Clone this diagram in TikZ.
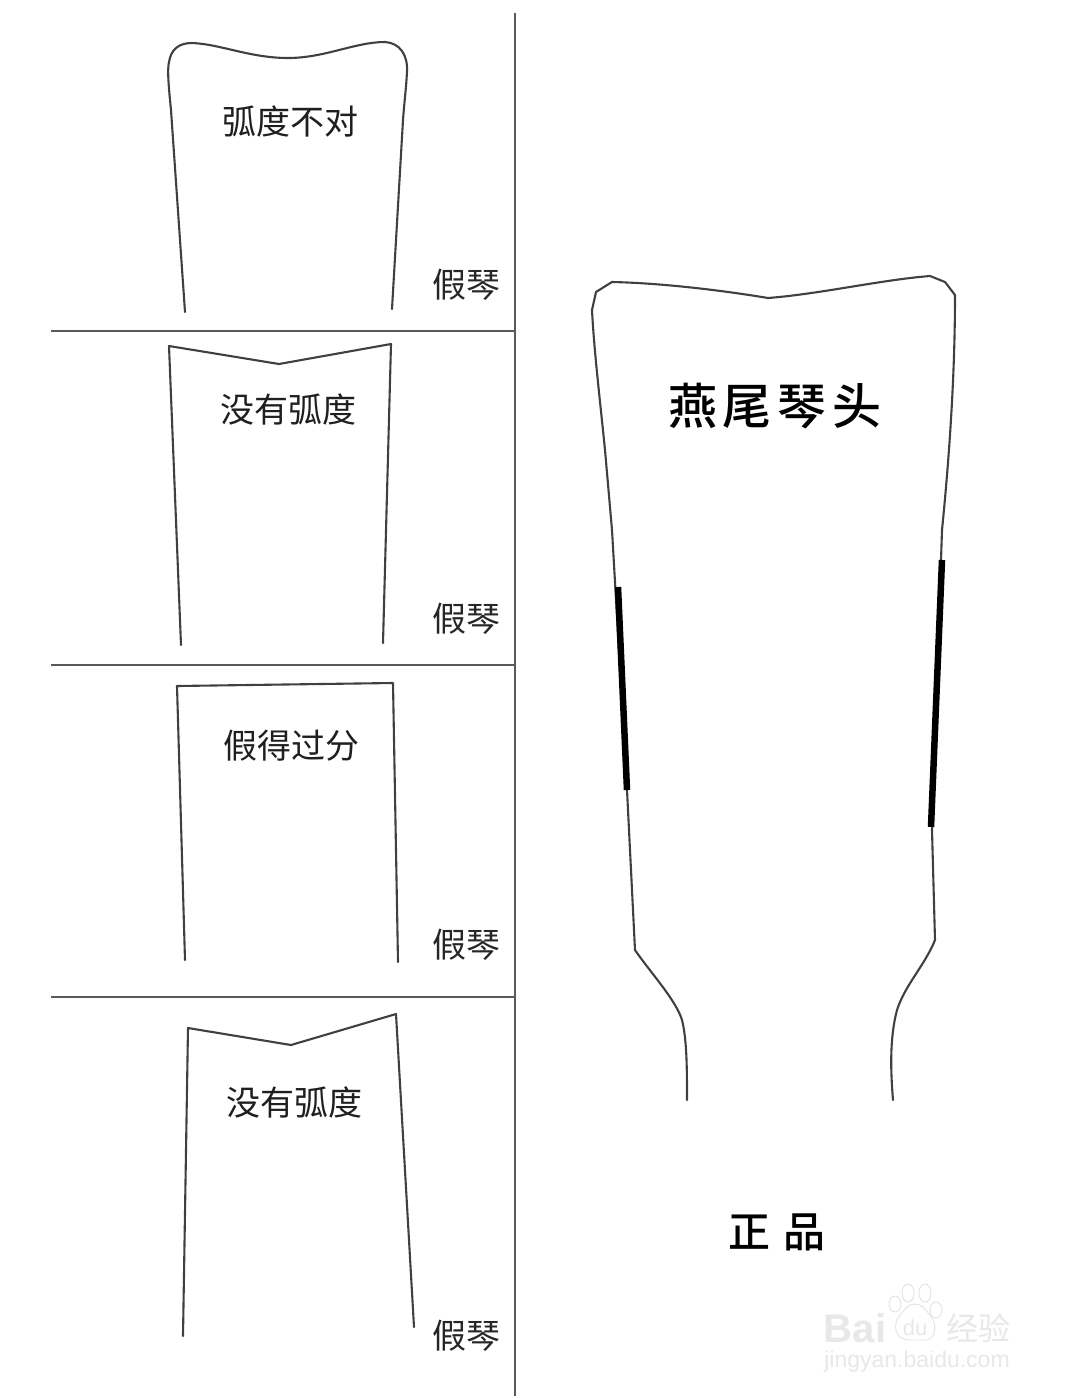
\documentclass[tikz,border=0pt]{standalone}
\usepackage{fontspec}
\setmainfont{Liberation Sans}
\newfontfamily\cjk{Noto Sans CJK SC}
\newfontfamily\cjkbold{Noto Sans CJK SC Medium}
\begin{document}
\begin{tikzpicture}[x=1pt,y=-1pt,
  outline/.style={draw=black!75,line width=2.1pt,line join=round,line cap=round},
  rule/.style={draw=black!65,line width=1.9pt},
  marker/.style={draw=black,line width=6.5pt},
  shapelabel/.style={font=\cjk\fontsize{34}{34}\selectfont,text=black!88,inner sep=0pt},
  fakelabel/.style={font=\cjk\fontsize{34}{34}\selectfont,text=black!85,inner sep=0pt},
  handlabel/.style={font=\cjkbold\fontsize{49}{49}\selectfont,text=black,inner sep=0pt},
  signlabel/.style={font=\cjkbold\fontsize{42}{42}\selectfont,text=black,inner sep=0pt},
  wm/.style={draw=black!11,line width=0.9pt,fill=white},
  wmtext/.style={text=black!9,inner sep=0pt}]
\useasboundingbox (0,0) rectangle (1072,1398);
\fill[white] (0,0) rectangle (1072,1398);

% panel dividers
\coordinate (vtop) at (515,13);
\coordinate (vbot) at (515,1396);
\draw[rule] (vtop) -- (vbot);
\foreach \yy in {331,665,997}{
  \draw[rule] (51,\yy) -- (515,\yy);
}

% first outline: curved top
\draw[outline] (185,312) -- (171,110) .. controls (169,90) and (167,70) .. (169,62)
  .. controls (171,50) and (178,43) .. (192,43)
  .. controls (220,44) and (250,58) .. (288,58)
  .. controls (325,58) and (355,42) .. (385,42)
  .. controls (400,43) and (408,55) .. (407,72)
  .. controls (406,90) and (404,105) .. (403,120) -- (392,309);

% second outline: notched top
\draw[outline] (181,645) -- (169,346) -- (279,364) -- (391,344) -- (383,643);

% third outline: flat top
\draw[outline] (185,960) -- (177,686) -- (393,683) -- (398,962);

% fourth outline: notched top, wider at the foot
\draw[outline] (183,1336) -- (188,1028) -- (291,1045) -- (396,1014) -- (414,1327);

% large outline
\draw[outline] (687,1100) .. controls (687,1070) and (687,1040) .. (682,1020)
  .. controls (676,1000) and (650,972) .. (635,950)
  -- (627,790) -- (612,530) -- (605,450)
  .. controls (600,400) and (594,350) .. (592,310)
  -- (596,292) -- (612,282)
  .. controls (660,283) and (720,290) .. (768,298)
  .. controls (820,294) and (880,280) .. (930,276)
  -- (945,282) -- (955,295)
  .. controls (955,370) and (950,450) .. (942,530)
  -- (932,830) -- (935,940)
  .. controls (925,965) and (905,985) .. (897,1010)
  .. controls (889,1040) and (891,1075) .. (893,1100);

% thick side segments
\draw[marker] (618,587) -- (627,790);
\draw[marker] (942,560) -- (931,827);

% labels
\node[shapelabel] (l1) at (290,121) {弧度不对};
\node[shapelabel] (l2) at (288,409) {没有弧度};
\node[shapelabel] (l3) at (291,746) {假得过分};
\node[shapelabel] (l4) at (294,1102) {没有弧度};
\node[fakelabel] (f1) at (466,285) {假琴};
\node[fakelabel] (f2) at (466,619) {假琴};
\node[fakelabel] (f3) at (466,945) {假琴};
\node[fakelabel] (f4) at (466,1336) {假琴};
\node[handlabel] (head) at (775,406) {燕\kern6pt 尾\kern6pt 琴\kern6pt 头};
\node[signlabel] (genuine) at (777,1232) {正\kern14pt 品};

% watermark
\draw[wm] (910,1340) .. controls (893,1340) and (893,1322) .. (900,1315)
  .. controls (906,1308) and (908,1304) .. (915,1304)
  .. controls (922,1304) and (924,1308) .. (930,1315)
  .. controls (937,1322) and (937,1340) .. (925,1340) -- cycle;
\draw[wm] (895,1304) ellipse (6 and 8);
\draw[wm] (908,1293) ellipse (6 and 9);
\draw[wm] (925,1293) ellipse (6 and 9);
\draw[wm] (936,1310) ellipse (6 and 8);
\node[wmtext,font=\bfseries\fontsize{40}{40}\selectfont] (wb) at (855,1328) {Bai};
\node[wmtext,font=\fontsize{22}{22}\selectfont] (wd) at (915,1328) {du};
\node[wmtext,font=\cjk\fontsize{32}{32}\selectfont] (wj) at (978,1328) {经验};
\node[wmtext,font=\fontsize{23}{23}\selectfont] (wu) at (917,1362) {jingyan.baidu.com};
\end{tikzpicture}
\end{document}
